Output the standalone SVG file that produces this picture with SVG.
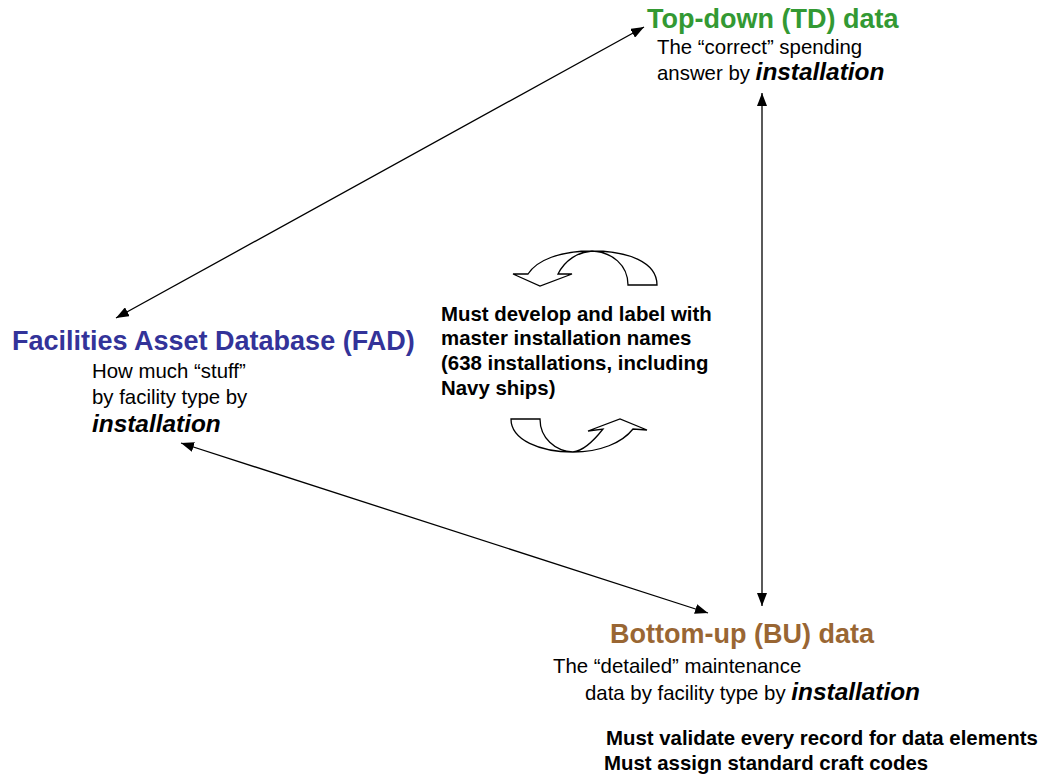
<svg xmlns="http://www.w3.org/2000/svg" width="1039" height="774" viewBox="0 0 1039 774">
<style>
text{font-family:"Liberation Sans",Arial,sans-serif;fill:#000}
.title{font-size:27px;font-weight:bold}
.body{font-size:20.4px}
.em{font-size:24.4px;font-weight:bold;font-style:italic}
.bold{font-size:20.4px;font-weight:bold}
.conn{stroke:#000;stroke-width:1.3;fill:none;marker-start:url(#ah);marker-end:url(#ah)}
.curve{fill:#fff;stroke:#000;stroke-width:1.3;stroke-linejoin:miter}
</style>
<defs>
<marker id="ah" markerUnits="userSpaceOnUse" markerWidth="14" markerHeight="10" refX="13" refY="5" orient="auto-start-reverse">
<path d="M0,0 L13,5 L0,10 z" fill="#000"/>
</marker>
</defs>
<rect width="1039" height="774" fill="#fff"/>
<g id="connectors">
<line class="conn" x1="116" y1="318" x2="644" y2="27"/>
<line class="conn" x1="762" y1="93" x2="762" y2="606"/>
<line class="conn" x1="181" y1="443" x2="708" y2="613"/>
</g>
<g id="curved-arrow-top">
<path class="curve" d="M657,285 C657,262 628,251 592,251 C560,251 537,260 528,274 L513,274 L540,286 L572,274 L558,274 C565,260 578,252 592,251 C612,252 628,265 628,285 Z"/>
</g>
<g id="curved-arrow-bottom">
<path class="curve" d="M511,419 C511,440 540,452 573,452 C600,452 622,443 633,429 L647,430 L620,419 L588,431 L603,429 C592,443 583,451 573,452 C555,451 540,438 540,419 Z"/>
</g>
<g id="td">
<text class="title" x="647" y="28" style="fill:#339933">Top-down (TD) data</text>
<text class="body" x="657" y="54">The “correct” spending</text>
<text class="body" x="657" y="80">answer by <tspan class="em">installation</tspan></text>
</g>
<g id="fad">
<text class="title" x="12" y="350" style="fill:#333399">Facilities  Asset Database (FAD)</text>
<text class="body" x="92" y="378">How much “stuff”</text>
<text class="body" x="92" y="404">by facility type by</text>
<text class="em" x="92" y="432">installation</text>
</g>
<g id="center-note">
<text class="bold" x="441" y="321">Must develop and label with</text>
<text class="bold" x="441" y="345">master installation  names</text>
<text class="bold" x="441" y="370">(638 installations, including</text>
<text class="bold" x="441" y="395">Navy ships)</text>
</g>
<g id="bu">
<text class="title" x="610" y="643" style="fill:#996633">Bottom-up (BU) data</text>
<text class="body" x="553" y="673">The “detailed” maintenance</text>
<text class="body" x="585" y="700">data by facility type by <tspan class="em">installation</tspan></text>
<text class="bold" x="606" y="745">Must validate every record for data elements</text>
<text class="bold" x="604" y="770">Must assign standard craft codes</text>
</g>
</svg>
